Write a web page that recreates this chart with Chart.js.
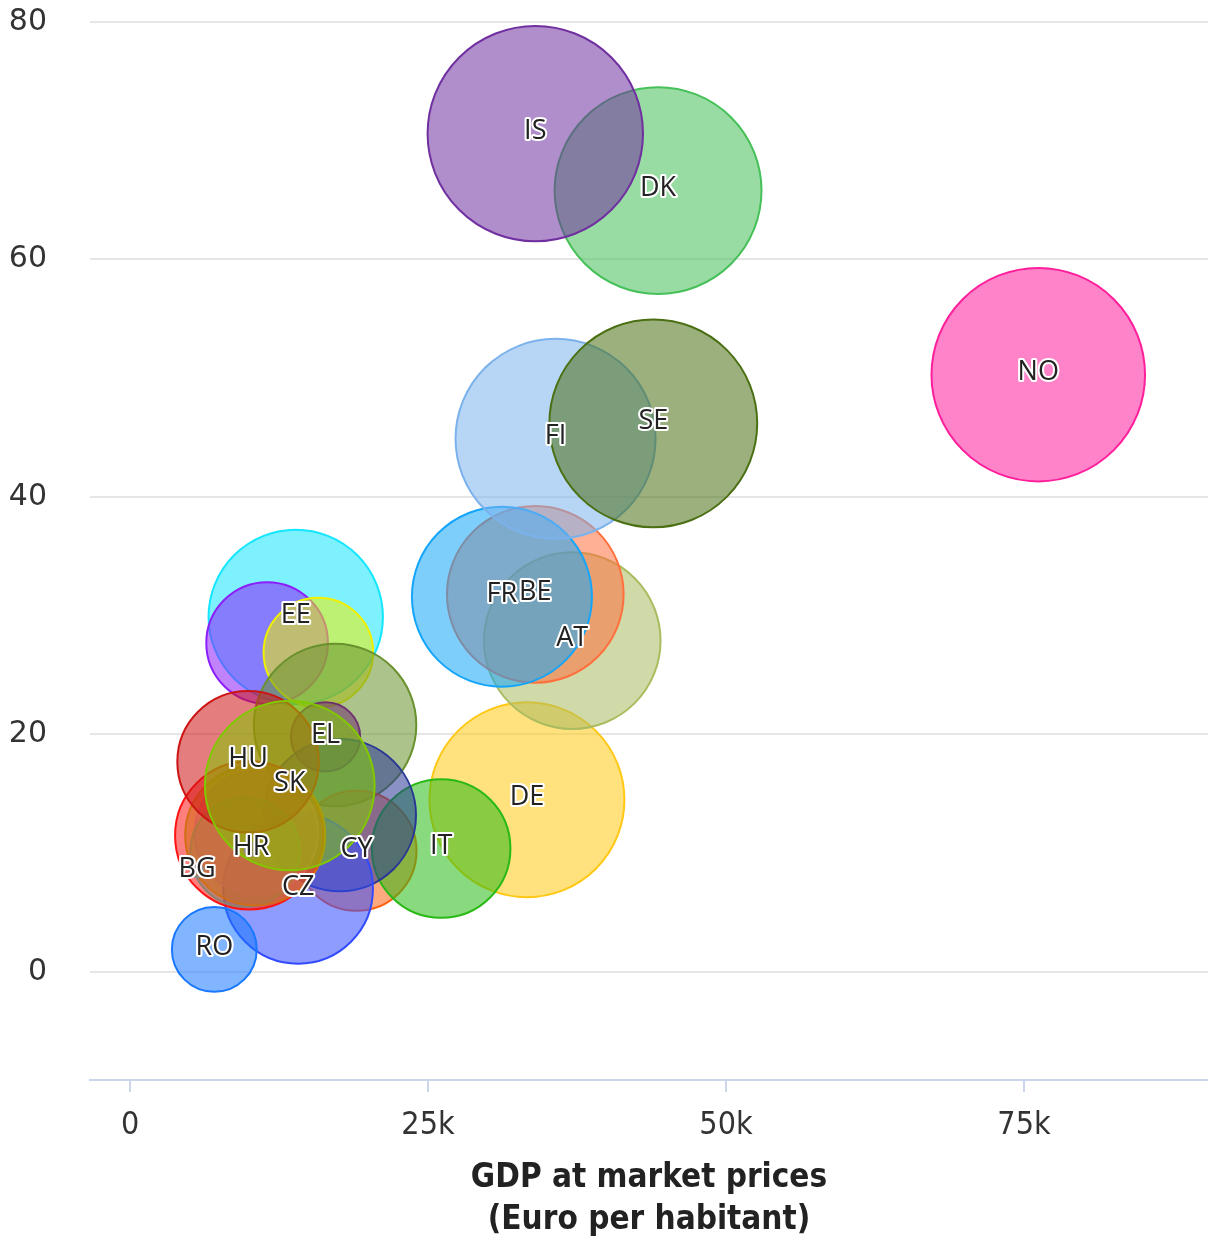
<!DOCTYPE html>
<html>
<head>
<meta charset="utf-8">
<script src="https://cdn.jsdelivr.net/npm/chart.js@4.4.0/dist/chart.umd.min.js"></script>
<style>
  html, body { margin: 0; padding: 0; background: #fff; }
  #wrap { width: 1208px; height: 1237px; }
</style>
</head>
<body>
<div id="wrap"><canvas id="bubbleChart" width="1208" height="1237"></canvas></div>
<script>
// Çizim sırasına göre (alttan üste). '' = etiketi orijinalde gizli
const countries = ['DE', 'AT', 'BE', 'FR', 'FI', 'SE', 'DK', 'IS', 'NO',
    'EE', '', '', '', 'EL', 'CY', 'IT', '', 'CZ', 'RO', '', '', '', '', 'HU', 'SK', 'BG', 'HR'];
// GDP at market prices (Euro per habitant)
const gdp = [33300, 37100, 34000, 31200, 35700, 43900, 44300, 34000, 76200,
    13900, 11500, 15800, 17200, 16400, 19000, 26100, 17600, 14100, 7070, 10000, 10600, 9650, 10500, 9900, 13400, 5620, 10150];
// Y değerleri
const values = [14.5, 27.9, 31.8, 31.6, 44.9, 46.2, 65.8, 70.6, 50.3,
    29.9, 27.7, 26.9, 20.8, 19.8, 10.2, 10.4, 13.2, 7.0, 1.9, 11.5, 11.7, 10.1, 11.5, 17.7, 15.7, 8.5, 10.3];
// Balon büyüklüğü (z)
const sizes = [95, 78, 78, 81, 100, 108, 107, 116, 114,
    76, 37, 30, 66, 12, 36, 48, 58, 56, 18, 55, 38, 30, 49, 50, 72, 0.4, 0.4];

const xTicks = [0, 25000, 50000, 75000];
const yTicks = [0, 20, 40, 60, 80];

// Renkler (kenar rengi, dolgu aynı rengin yarı saydamı)
const colors = [
    [255, 200, 20], [170, 188, 96], [255, 112, 62], [20, 165, 250], [124, 178, 236],
    [75, 112, 20], [70, 192, 88], [112, 48, 160], [255, 30, 155],
    [20, 230, 255], [140, 30, 250], [240, 240, 0], [105, 145, 45], [110, 50, 110],
    [255, 100, 20], [40, 185, 20], [40, 55, 150], [50, 75, 255], [25, 120, 255],
    [255, 20, 20], [235, 80, 160], [140, 130, 110], [210, 110, 20],
    [205, 20, 20], [130, 200, 0],
    [140, 140, 140], [140, 140, 140]
];

const RADIUS_SCALE = 10;
const NARROW = '"Liberation Sans Narrow", "DejaVu Sans Condensed", sans-serif';

const bubbleData = gdp.map((x, i) => ({ x: x, y: values[i], r: Math.sqrt(sizes[i]) * RADIUS_SCALE }));

// Balon etiketleri (beyaz kenarlı yazı)
const bubbleLabels = {
    id: 'bubbleLabels',
    afterDatasetsDraw(chart) {
        const ctx = chart.ctx;
        const meta = chart.getDatasetMeta(0);
        ctx.save();
        ctx.font = '27px "Open Sans", sans-serif';
        ctx.textAlign = 'center';
        ctx.textBaseline = 'middle';
        ctx.lineJoin = 'round';
        meta.data.forEach((pt, i) => {
            const name = countries[i];
            if (!name) return;
            ctx.lineWidth = 4;
            ctx.strokeStyle = '#ffffff';
            ctx.strokeText(name, pt.x, pt.y - 2);
            ctx.fillStyle = '#222222';
            ctx.fillText(name, pt.x, pt.y - 2);
        });
        ctx.restore();
    }
};

const ctx = document.getElementById('bubbleChart').getContext('2d');
new Chart(ctx, {
    type: 'bubble',
    data: {
        datasets: [{
            data: bubbleData,
            backgroundColor: colors.map(c => `rgba(${c[0]}, ${c[1]}, ${c[2]}, 0.55)`),
            borderColor: colors.map(c => `rgb(${c[0]}, ${c[1]}, ${c[2]})`),
            borderWidth: 2,
            clip: false
        }]
    },
    options: {
        responsive: false,
        animation: false,
        devicePixelRatio: 1,
        layout: { autoPadding: false, padding: { top: 22, right: 0, left: 0, bottom: 0 } },
        plugins: {
            legend: { display: false },
            tooltip: { enabled: false }
        },
        scales: {
            x: {
                type: 'linear',
                min: -3360,
                max: 90440,
                afterBuildTicks: scale => { scale.ticks = xTicks.map(v => ({ value: v })); },
                afterFit: scale => {
                    scale.height = 157;
                    scale.paddingLeft = 0;
                    scale.paddingRight = 0;
                },
                grid: { drawOnChartArea: false, drawTicks: true, tickLength: 12, color: '#ccd6eb', lineWidth: 2 },
                border: { color: '#ccd6eb', width: 2 },
                ticks: {
                    padding: 14,
                    color: '#333333',
                    maxRotation: 0,
                    font: { family: NARROW, size: 32 },
                    callback: v => v === 0 ? '0' : (v / 1000) + 'k'
                },
                title: {
                    display: true,
                    text: ['GDP at market prices', '(Euro per habitant)'],
                    color: '#222222',
                    padding: { top: 0, bottom: -4 },
                    font: { family: NARROW, size: 33, weight: 'bold', lineHeight: '42px' }
                }
            },
            y: {
                min: -9.1,
                max: 80,
                afterBuildTicks: scale => { scale.ticks = yTicks.map(v => ({ value: v })); },
                afterFit: scale => {
                    scale.width = 90;
                    scale.paddingTop = 0;
                    scale.paddingBottom = 0;
                },
                grid: { drawTicks: false, color: '#e6e6e6', lineWidth: 2 },
                border: { display: false },
                ticks: {
                    padding: 43,
                    color: '#333333',
                    font: { family: '"DejaVu Sans", sans-serif', size: 30 }
                }
            }
        }
    },
    plugins: [bubbleLabels]
});
</script>
</body>
</html>
